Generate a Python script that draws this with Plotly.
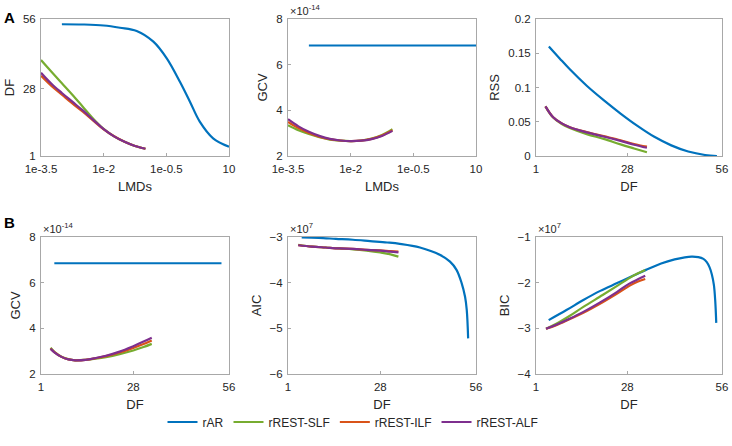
import plotly.graph_objects as go
from plotly.subplots import make_subplots
import numpy as np

# series names and colours (MATLAB default order)
names = ['rAR', 'rREST-SLF', 'rREST-ILF', 'rREST-ALF']
colors = ['#0072BD', '#77AC30', '#D95319', '#7E2F8E']

# ---- A1: DF vs LMDs (log10 of LMD) ----
a1_rar_lmd = [-3.0, -2.5, -2.0, -1.61, -1.21, -0.81, -0.49, -0.175, 0.065, 0.30, 0.62, 1.0]
a1_rar_df = [53.9, 53.8, 53.4, 52.5, 51.2, 46.9, 40.2, 30.8, 22.8, 14.8, 8.1, 4.7]
a1_rest_lmd = [-3.5, -3.25, -3.0, -2.75, -2.5, -2.25, -2.0, -1.75, -1.5, -1.25, -1.0]
a1_slf_df = [39.5, 34.8, 30.2, 25.6, 20.8, 16.0, 11.9, 8.9, 6.7, 5.0, 3.9]
a1_ilf_df = [33.2, 29.1, 25.6, 22.1, 18.8, 15.2, 11.7, 8.9, 6.7, 5.0, 3.9]
a1_alf_df = [34.4, 30.0, 26.3, 22.8, 19.3, 15.5, 11.8, 8.9, 6.7, 5.0, 3.9]

# ---- A2: GCV (x1e-14) vs LMDs ----
a2_rar_lmd = [-3.0, 1.0]
a2_rar_gcv = [6.84, 6.84]
a2_rest_lmd = [-3.5, -3.25, -3.0, -2.75, -2.5, -2.25, -2.0, -1.75, -1.5, -1.25, -1.0]
a2_slf_gcv = [3.35, 3.13, 2.96, 2.82, 2.72, 2.67, 2.65, 2.68, 2.76, 2.92, 3.17]
a2_ilf_gcv = [3.49, 3.22, 3.01, 2.85, 2.74, 2.68, 2.65, 2.67, 2.75, 2.90, 3.13]
a2_alf_gcv = [3.61, 3.30, 3.06, 2.88, 2.75, 2.68, 2.65, 2.67, 2.74, 2.88, 3.10]

# ---- A3: RSS vs DF ----
a3_rar_df = [4.8, 8, 11, 16, 21, 26, 31, 36, 41, 46, 51, 54.5]
a3_rar_rss = [0.160, 0.1425, 0.1265, 0.1025, 0.0815, 0.062, 0.044, 0.028, 0.0155, 0.0065, 0.0015, 0.0]
a3_rest_df = [3.8, 6, 8.5, 11, 16, 21, 26, 30, 33.8]
a3_slf_rss = [0.0725, 0.0565, 0.047, 0.041, 0.032, 0.025, 0.017, 0.011, 0.0054]
a3_ilf_rss = [0.0725, 0.057, 0.048, 0.042, 0.035, 0.029, 0.023, 0.0175, 0.0136]
a3_alf_rss = [0.0725, 0.057, 0.048, 0.042, 0.0345, 0.0285, 0.022, 0.0165, 0.012]

# ---- B1: GCV (x1e-14) vs DF ----
b1_rar_df = [4.9, 53.8]
b1_rar_gcv = [6.85, 6.85]
b1_rest_df = [3.8, 5, 7, 9, 11, 14, 17, 20, 24, 28, 31, 33.4]
b1_slf_gcv = [3.15, 2.96, 2.76, 2.65, 2.60, 2.62, 2.67, 2.74, 2.87, 3.03, 3.18, 3.32]
b1_ilf_gcv = [3.12, 2.95, 2.75, 2.64, 2.60, 2.62, 2.69, 2.78, 2.94, 3.14, 3.31, 3.47]
b1_alf_gcv = [3.10, 2.94, 2.75, 2.64, 2.60, 2.62, 2.70, 2.80, 2.98, 3.22, 3.42, 3.59]

# ---- B2: AIC (x1e7) vs DF ----
b2_rar_df = [5, 10, 15, 20, 25, 30, 33.7, 39.6, 45.4, 48.4, 50.3, 51.8, 52.8, 53.3, 53.7]
b2_rar_aic = [-3.01, -3.02, -3.04, -3.06, -3.09, -3.12, -3.15, -3.23, -3.39, -3.54, -3.72, -4.01, -4.31, -4.60, -5.22]
b2_rest_df = [4, 8, 12, 16, 20, 24, 28, 31, 33.3]
b2_slf_aic = [-3.17, -3.21, -3.23, -3.25, -3.27, -3.30, -3.34, -3.38, -3.43]
b2_ilf_aic = [-3.18, -3.21, -3.23, -3.25, -3.26, -3.28, -3.295, -3.31, -3.32]
b2_alf_aic = [-3.18, -3.21, -3.23, -3.25, -3.26, -3.28, -3.30, -3.32, -3.335]

# ---- B3: BIC (x1e7) vs DF ----
b3_rar_df = [4.75, 10, 15, 20, 25, 30, 33.5, 38, 42, 45, 47, 49, 50.5, 51.5, 52.3, 53, 53.6, 54.0, 54.3]
b3_rar_bic = [-2.82, -2.60, -2.38, -2.18, -2.01, -1.84, -1.72, -1.58, -1.49, -1.445, -1.43, -1.44, -1.48, -1.55, -1.66, -1.82, -2.05, -2.40, -2.88]
b3_rest_df = [3.96, 7, 10.9, 15, 20.7, 25, 28.6, 31, 33.3]
b3_slf_bic = [-3.01, -2.90, -2.73, -2.53, -2.27, -2.07, -1.90, -1.80, -1.72]
b3_ilf_bic = [-3.01, -2.93, -2.80, -2.66, -2.43, -2.24, -2.07, -1.98, -1.92]
b3_alf_bic = [-3.01, -2.92, -2.79, -2.64, -2.40, -2.20, -2.02, -1.93, -1.85]

lmd = lambda v: 10 ** np.array(v)

panels = [
    (1, 1, [(lmd(a1_rar_lmd), a1_rar_df), (lmd(a1_rest_lmd), a1_slf_df),
            (lmd(a1_rest_lmd), a1_ilf_df), (lmd(a1_rest_lmd), a1_alf_df)]),
    (1, 2, [(lmd(a2_rar_lmd), a2_rar_gcv), (lmd(a2_rest_lmd), a2_slf_gcv),
            (lmd(a2_rest_lmd), a2_ilf_gcv), (lmd(a2_rest_lmd), a2_alf_gcv)]),
    (1, 3, [(a3_rar_df, a3_rar_rss), (a3_rest_df, a3_slf_rss),
            (a3_rest_df, a3_ilf_rss), (a3_rest_df, a3_alf_rss)]),
    (2, 1, [(b1_rar_df, b1_rar_gcv), (b1_rest_df, b1_slf_gcv),
            (b1_rest_df, b1_ilf_gcv), (b1_rest_df, b1_alf_gcv)]),
    (2, 2, [(b2_rar_df, b2_rar_aic), (b2_rest_df, b2_slf_aic),
            (b2_rest_df, b2_ilf_aic), (b2_rest_df, b2_alf_aic)]),
    (2, 3, [(b3_rar_df, b3_rar_bic), (b3_rest_df, b3_slf_bic),
            (b3_rest_df, b3_ilf_bic), (b3_rest_df, b3_alf_bic)]),
]

fig = make_subplots(rows=2, cols=3)
for k, (r, c, series) in enumerate(panels):
    for i, (x, y) in enumerate(series):
        fig.add_trace(go.Scatter(x=x, y=y, mode='lines', name=names[i],
                                 showlegend=(k == 0), line=dict(color=colors[i], width=2.2, shape='spline')),
                      row=r, col=c)

W, H = 732, 446
px = lambda v: v / W
py = lambda v: 1 - v / H
xdom = [[px(41), px(229)], [px(288), px(476)], [px(536), px(722)]]
ydom = [[py(156), py(19)], [py(374), py(237)]]

axis_style = dict(showline=True, mirror=True, linecolor='#a8a8a8', linewidth=1, ticks='inside',
                  ticklen=3, tickcolor='#a8a8a8', showgrid=False, zeroline=False, automargin=False,
                  ticklabeloverflow='allow', ticklabelstandoff=2,
                  tickfont=dict(size=11.5, color='#262626'))
title_font = dict(size=13, color='#262626')

log_ticks = dict(type='log', range=[-3.5, 1], tickvals=list(lmd([-3.5, -2, -0.5, 1])),
                 ticktext=['1e-3.5', '1e-2', '1e-0.5', '10'])
df_ticks = dict(range=[1, 56], tickvals=[1, 28, 56])

xset = [log_ticks, log_ticks, df_ticks, df_ticks, df_ticks, df_ticks]
xtitles = ['LMDs', 'LMDs', 'DF', 'DF', 'DF', 'DF']
yset = [dict(range=[1, 56], tickvals=[1, 28, 56]),
        dict(range=[2, 8], tickvals=[2, 4, 6, 8]),
        dict(range=[0, 0.2], tickvals=[0, 0.05, 0.1, 0.15, 0.2], ticktext=['0', '0.05', '0.1', '0.15', '0.2']),
        dict(range=[2, 8], tickvals=[2, 4, 6, 8]),
        dict(range=[-6, -3], tickvals=[-6, -5, -4, -3]),
        dict(range=[-4, -1], tickvals=[-4, -3, -2, -1])]
ytitles = ['DF', 'GCV', 'RSS', 'GCV', 'AIC', 'BIC']

for k in range(6):
    r, c = divmod(k, 3)
    sfx = '' if k == 0 else str(k + 1)
    fig.layout['xaxis' + sfx].update(domain=xdom[c], **axis_style, **xset[k],
                                     title=dict(text=xtitles[k], font=title_font, standoff=8))
    fig.layout['yaxis' + sfx].update(domain=ydom[r], **axis_style, **yset[k],
                                     title=dict(text=ytitles[k], font=title_font, standoff=5))

annotations = [
    dict(text='<b>A</b>', x=px(9), y=py(17), font=dict(size=15, color='black')),
    dict(text='<b>B</b>', x=px(9), y=py(222), font=dict(size=15, color='black')),
]
exps = [(1, '×10<sup>-14</sup>'), (3, '×10<sup>-14</sup>'), (4, '×10<sup>7</sup>'), (5, '×10<sup>7</sup>')]
for k, txt in exps:
    r, c = divmod(k, 3)
    annotations.append(dict(text=txt, x=xdom[c][0], y=ydom[r][1], xanchor='left', yanchor='bottom',
                            font=dict(size=11, color='#262626')))
for a in annotations:
    a.update(xref='paper', yref='paper', showarrow=False)
    a.setdefault('xanchor', 'center')
    a.setdefault('yanchor', 'middle')

fig.update_layout(
    width=W, height=H, margin=dict(l=0, r=0, t=0, b=0, autoexpand=False),
    paper_bgcolor='white', plot_bgcolor='white',
    font=dict(family='Arial, Liberation Sans, sans-serif', color='#262626'),
    legend=dict(orientation='h', x=px(353), xanchor='center', y=py(422), yanchor='middle',
                itemwidth=30, font=dict(size=12, color='#262626'), bgcolor='rgba(0,0,0,0)'),
    annotations=annotations,
)

# drop the browser's default 8px body margin so the figure sits at the window corner
fig.write_html("out.html", config={'displayModeBar': False},
               post_script="document.body.style.margin='0px';")
